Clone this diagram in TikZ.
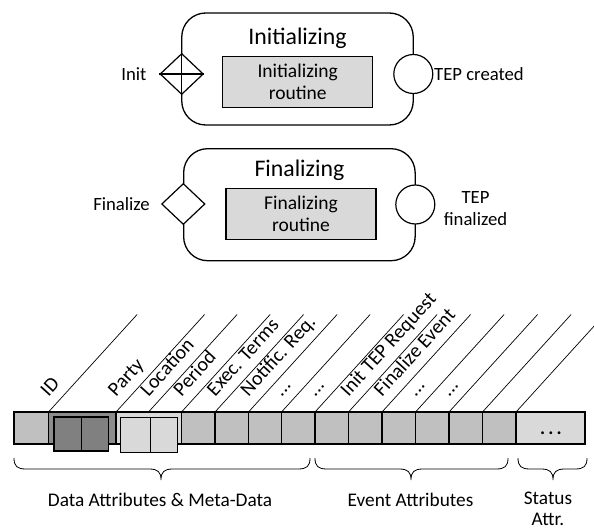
\documentclass[tikz,border=0pt]{standalone}
\usepackage{fontspec}
\setmainfont{Carlito}
\usetikzlibrary{shapes.geometric}

\definecolor{cellgray}{HTML}{C0C0C0}
\definecolor{palegray}{HTML}{D9D9D9}
\definecolor{midgray}{HTML}{8C8C8C}
\definecolor{deepgray}{HTML}{808080}
\newcommand{\etcdots}{...}

\begin{document}
\begin{tikzpicture}[x=1pt,y=-1pt,
  proc/.style={draw, line width=1.3pt, rounded corners=24pt, minimum width=231.5pt,
    minimum height=112pt, inner sep=0pt},
  routine/.style={draw, line width=1.2pt, fill=palegray, minimum width=150pt,
    minimum height=51pt, align=center, font=\fontsize{19.5}{21.5}\selectfont, inner sep=0pt},
  title/.style={font=\fontsize{23.8}{26}\selectfont, inner sep=0pt, anchor=base},
  trigger/.style={diamond, draw, fill=white, line width=1.2pt, minimum width=43.4pt,
    minimum height=41pt, inner sep=0pt},
  endev/.style={circle, draw, fill=white, line width=1.2pt, minimum size=39pt, inner sep=0pt},
  lbl/.style={font=\fontsize{18.7}{22}\selectfont, inner sep=0pt},
  grouplbl/.style={font=\fontsize{19.3}{21}\selectfont, inner sep=0pt},
  cell/.style={draw, line width=1.2pt, fill=cellgray},
  diag/.style={line width=0.7pt},
  collbl/.style={font=\fontsize{20}{22}\selectfont, inner sep=0pt, rotate=47.7, anchor=mid west},
  brc/.style={line width=0.8pt},
]
\useasboundingbox (0,0) rectangle (594,532);

% ---------- Initializing process ----------
\node[proc] (initbox) at (297.5,69) {};
\node[title] (inittitle) at (297.5,45) {Initializing};
\node[routine] (initrt) at (297.7,82) {Initializing\\routine};
\node[trigger] (initev) at (181.7,74) {};
\draw[line width=1.2pt] (initev.north) -- (initev.south) (initev.west) -- (initev.east);
\node[endev] (initdone) at (413.3,74) {};
\node[lbl, anchor=east] (initlbl) at (146.7,74) {Init};
\node[lbl, anchor=west] (createdlbl) at (434,74) {TEP created};

% ---------- Finalizing process ----------
\node[proc] (finbox) at (299.4,204.7) {};
\node[title] (fintitle) at (299.4,176.5) {Finalizing};
\node[routine] (finrt) at (301,214) {Finalizing\\routine};
\node[trigger] (finev) at (183.3,204) {};
\node[endev] (findone) at (415.3,204.5) {};
\node[lbl, anchor=east] (finlbl) at (150,204) {Finalize};
\node[lbl, align=center] (finishedlbl) at (475.5,209) {TEP\\finalized};

% ---------- attribute strip ----------
\foreach \a/\b in {14/48.5, 181.5/215, 215/248.5, 248.5/281.5, 281.5/315,
                   315/348.5, 348.5/382, 382/415.5, 415.5/449, 449/482.5, 482.5/516}
  \draw[cell] (\a,412) rectangle (\b,444);
% grouped party cells
\draw[cell, fill=midgray] (48.5,412) rectangle (116,444);
\draw[cell, fill=deepgray] (54,417) rectangle (81.5,451);
\draw[cell, fill=deepgray] (81.5,417) rectangle (108.7,451);
% grouped location / period cells
\draw[cell, fill=palegray] (116,412) rectangle (181.5,444);
\draw[cell, fill=palegray] (120.7,417.3) rectangle (150.3,452.3);
\draw[cell, fill=palegray] (150.3,417.3) rectangle (177.3,452.3);
% status part
\draw[cell, fill=palegray] (516,412) rectangle (585,444);
\node[font=\fontsize{19}{22}\selectfont\bfseries, inner sep=0pt] (statdots) at (551,433.5) {.\,.\,.};

% slanted column headers
\begin{scope}
\clip (0,0) rectangle (594,532);
\foreach \x in {48.5,116,148.5,181.5,215,248.5,281.5,315,348.5,382,415.5,449,482.5,516}
  \draw[diag] (\x,412) -- ++(88.6,-97.5);
\end{scope}
\foreach \x/\t [count=\i] in {48.5/ID, 116/Party, 148.5/Location, 181.5/Period,
    215/Exec. Terms, 248.5/Notific. Req., 281.5/\etcdots, 315/\etcdots,
    348.5/Init TEP Request, 382/Finalize Event, 415.5/\etcdots, 449/\etcdots}
  \node[collbl] (col\i) at (\x-1.7,395.6) {\t};

% ---------- braces and group names ----------
\foreach \xa/\xm/\xb [count=\i] in {14/161/310, 315/411/508, 518/553/587}
  \draw[brc] (\xa,458) .. controls (\xa,466) and (\xa+3,469) .. (\xa+12,469)
    -- (\xm-12,469) .. controls (\xm-3,469) and (\xm,472) .. (\xm,480)
    .. controls (\xm,472) and (\xm+3,469) .. (\xm+12,469)
    -- (\xb-12,469) .. controls (\xb-3,469) and (\xb,466) .. (\xb,458);
\node[grouplbl, anchor=base] (datalbl) at (160,506) {Data Attributes \& Meta-Data};
\node[grouplbl, anchor=base] (eventlbl) at (410.5,506) {Event Attributes};
\node[grouplbl, align=center, anchor=north] (statuslbl) at (548,492) {Status\\Attr.};
\end{tikzpicture}
\end{document}
